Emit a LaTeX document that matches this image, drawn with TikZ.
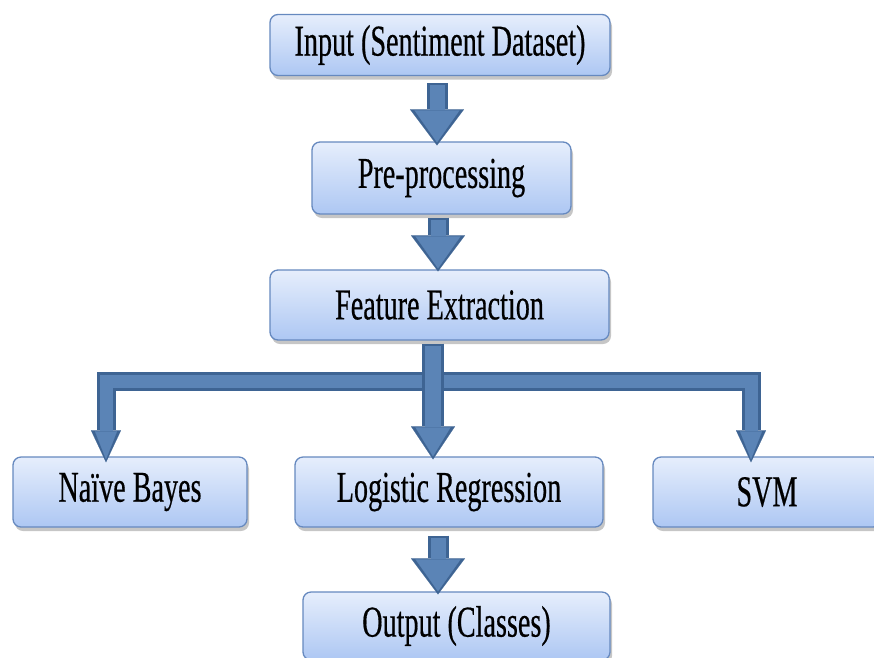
\documentclass[tikz,border=0pt]{standalone}
\usepackage{fontspec}
\newfontfamily\boxfont[FakeStretch=0.64,FakeBold=0.4]{Liberation Serif}
\usetikzlibrary{arrows.meta,shadows,calc}
\definecolor{boxtop}{HTML}{E6EEFC}
\definecolor{boxbot}{HTML}{ADC7F3}
\definecolor{boxedge}{HTML}{6689BF}
\definecolor{arrdark}{HTML}{3E6493}
\definecolor{arrfill}{HTML}{5B84B6}
\begin{document}
\begin{tikzpicture}[x=1pt,y=1pt,
  stepbox/.style={draw=boxedge, line width=1.3pt, rounded corners=8pt,
    top color=boxtop, bottom color=boxbot,
    drop shadow={shadow xshift=2pt,shadow yshift=-4pt,opacity=0.45},
    font=\boxfont\fontsize{44}{48}\selectfont, inner sep=0pt},
  bigout/.style={draw=arrdark, line width=21pt,
    -{Triangle[length=36pt,width=54pt,line width=0.1pt]}},
  bigin/.style={draw=arrfill, line width=15pt, shorten >=3pt, shorten <=2pt,
    -{Triangle[length=32pt,width=45pt,line width=0.1pt]}},
  midout/.style={draw=arrdark, line width=22pt,
    -{Triangle[length=33pt,width=44pt,line width=0.1pt]}},
  midin/.style={draw=arrfill, line width=16pt, shorten >=3pt, shorten <=2pt,
    -{Triangle[length=29pt,width=35pt,line width=0.1pt]}},
  sideout/.style={draw=arrdark, line width=19pt,
    -{Triangle[length=32pt,width=30pt,line width=0.1pt]}},
  sidein/.style={draw=arrfill, line width=13pt, shorten >=3pt,
    -{Triangle[length=28pt,width=22pt,line width=0.1pt]}},
]
\useasboundingbox (0,0) rectangle (874,-657);

\node[stepbox, minimum width=340pt, minimum height=61pt] (in)  at (440,-45)    {Input (Sentiment Dataset)};
\node[stepbox, minimum width=259pt, minimum height=72pt] (pre) at (441.5,-178) {Pre-processing};
\node[stepbox, minimum width=339pt, minimum height=70pt] (fe)  at (439.5,-305) {Feature Extraction};
\node[stepbox, minimum width=234pt, minimum height=70pt] (nb)  at (130,-492)   {Naïve Bayes};
\node[stepbox, minimum width=308pt, minimum height=70pt] (lr)  at (449,-492)   {Logistic Regression};
\node[stepbox, minimum width=228pt, minimum height=70pt] (svm) at (767,-492)   {SVM};
\node[stepbox, minimum width=307pt, minimum height=68pt] (out) at (456.5,-626) {Output (Classes)};

\coordinate (j) at (433,-381);

% input -> pre-processing
\draw[bigout] ([xshift=-3pt,yshift=-7pt]in.south) -- ([xshift=-4.5pt,yshift=-4pt]pre.north);
\draw[bigin]  ([xshift=-3pt,yshift=-7pt]in.south) -- ([xshift=-4.5pt,yshift=-4pt]pre.north);
% pre-processing -> feature extraction
\draw[bigout] ([xshift=-3.5pt,yshift=-3pt]pre.south) -- ([xshift=-1.5pt,yshift=-2pt]fe.north);
\draw[bigin]  ([xshift=-3.5pt,yshift=-3pt]pre.south) -- ([xshift=-1.5pt,yshift=-2pt]fe.north);
% branches
\draw[sideout] (j) -| ([xshift=-24pt,yshift=-6pt]nb.north);
\draw[sideout] (j) -| ([xshift=-16pt,yshift=-6pt]svm.north);
\draw[sidein]  (j) -| ([xshift=-24pt,yshift=-6pt]nb.north);
\draw[sidein]  (j) -| ([xshift=-16pt,yshift=-6pt]svm.north);
\draw[midout] ([xshift=-6.5pt,yshift=-3pt]fe.south) -- ([xshift=-16pt,yshift=-3pt]lr.north);
\draw[midin]  ([xshift=-6.5pt,yshift=-3pt]fe.south) -- ([xshift=-16pt,yshift=-3pt]lr.north);
% logistic regression -> output
\draw[bigout] ([xshift=-11pt,yshift=-8pt]lr.south) -- ([xshift=-18.5pt,yshift=-3pt]out.north);
\draw[bigin]  ([xshift=-11pt,yshift=-8pt]lr.south) -- ([xshift=-18.5pt,yshift=-3pt]out.north);
\end{tikzpicture}
\end{document}
